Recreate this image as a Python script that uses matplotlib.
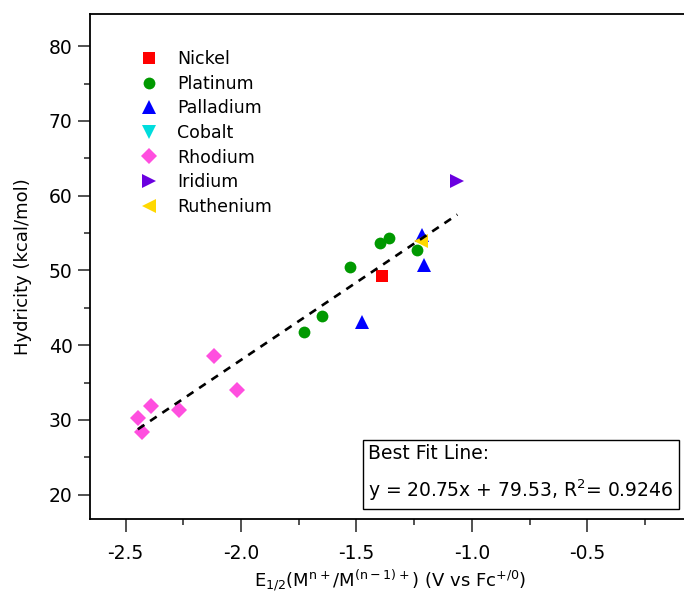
import numpy as np
import matplotlib
matplotlib.use('Agg')
import matplotlib.pyplot as plt
from matplotlib.ticker import MultipleLocator

#%%
# values
nickel_x = [-1.388]
nickel_y = [49.24]

platinum_x = [-1.398, -1.358, -1.528, -1.236, -1.648, -1.727]
platinum_y = [53.69, 54.28, 50.48, 52.71, 43.93, 41.75]

palladium_x = [-1.217, -1.206, -1.477]
palladium_y = [54.72, 50.71, 43.13]

cobalt_x = []
cobalt_y = []

rhodium_x = [-2.117, -2.018, -2.388, -2.267, -2.447, -2.427]
rhodium_y = [38.58, 34.00, 31.86, 31.32, 30.21, 28.34]

iridium_x = [-1.063]
iridium_y = [61.94]

ruthenium_x = [-1.222]
ruthenium_y = [53.92]

slope = 20.75
intercept = 79.53
r2 = 0.9246

#%%
plt.rcParams['font.family'] = ['DejaVu Sans']

fig = plt.figure(figsize=(6.84, 5.97), dpi=100)
ax = fig.add_axes([0.1316, 0.1312, 0.879, 0.8454])

ax.plot(nickel_x, nickel_y, 's', color='#ff0000', ms=8.5, mew=0, label='Nickel')
ax.plot(platinum_x, platinum_y, 'o', color='#009900', ms=8.5, mew=0, label='Platinum')
ax.plot(palladium_x, palladium_y, '^', color='#0000ff', ms=10, mew=0, label='Palladium')
ax.plot(cobalt_x, cobalt_y, 'v', color='#00dddd', ms=10, mew=0, label='Cobalt')
ax.plot(rhodium_x, rhodium_y, 'D', color='#ff4fdf', ms=8.5, mew=0, label='Rhodium')
ax.plot(iridium_x, iridium_y, '>', color='#6a00e0', ms=10, mew=0, label='Iridium')
ax.plot(ruthenium_x, ruthenium_y, '<', color='#ffd800', ms=10, mew=0, label='Ruthenium')

# best fit line across the data range
allx = nickel_x + platinum_x + palladium_x + rhodium_x + iridium_x + ruthenium_x
xfit = np.array([min(allx), max(allx)])
ax.plot(xfit, slope*xfit + intercept, color='black', lw=1.9, dashes=(3, 2.6), zorder=5)

ax.set_xlim(-2.654, -0.05)
ax.set_ylim(16.8, 84.3)

ax.xaxis.set_major_locator(MultipleLocator(0.5))
ax.xaxis.set_minor_locator(MultipleLocator(0.25))
ax.yaxis.set_major_locator(MultipleLocator(10))
ax.yaxis.set_minor_locator(MultipleLocator(5))
ax.tick_params(which='both', direction='out', width=1.1, labelsize=13.5, color='#222222')
ax.tick_params(which='major', length=9)
ax.tick_params(which='minor', length=4.5)
ax.xaxis.set_major_formatter(matplotlib.ticker.FormatStrFormatter('%.1f'))
ax.tick_params(axis='x', pad=9)

for s in ax.spines.values():
    s.set_linewidth(1.3)

ax.set_ylabel('Hydricity (kcal/mol)', fontsize=13, labelpad=12)
ax.set_xlabel(r'E$_{\mathrm{1/2}}$(M$^{\mathrm{n+}}$/M$^{\mathrm{(n-1)+}}$) (V vs Fc$^{\mathrm{+/0}}$)',
              fontsize=13, labelpad=3)

leg = ax.legend(loc='upper left', bbox_to_anchor=(0.058, 0.942), frameon=False,
                fontsize=12.5, labelspacing=0.38, handletextpad=0.6, borderaxespad=0)

ax.text(0.463, 0.031, 'Best Fit Line:\ny = %.2fx + %.2f, R$^2$= %.4f' % (slope, intercept, r2),
        transform=ax.transAxes, fontsize=13.5, va='bottom', ha='left', linespacing=1.75,
        bbox=dict(boxstyle='square,pad=0.3', fc='white', ec='black', lw=1.0))

plt.savefig('out.png', dpi=100)
